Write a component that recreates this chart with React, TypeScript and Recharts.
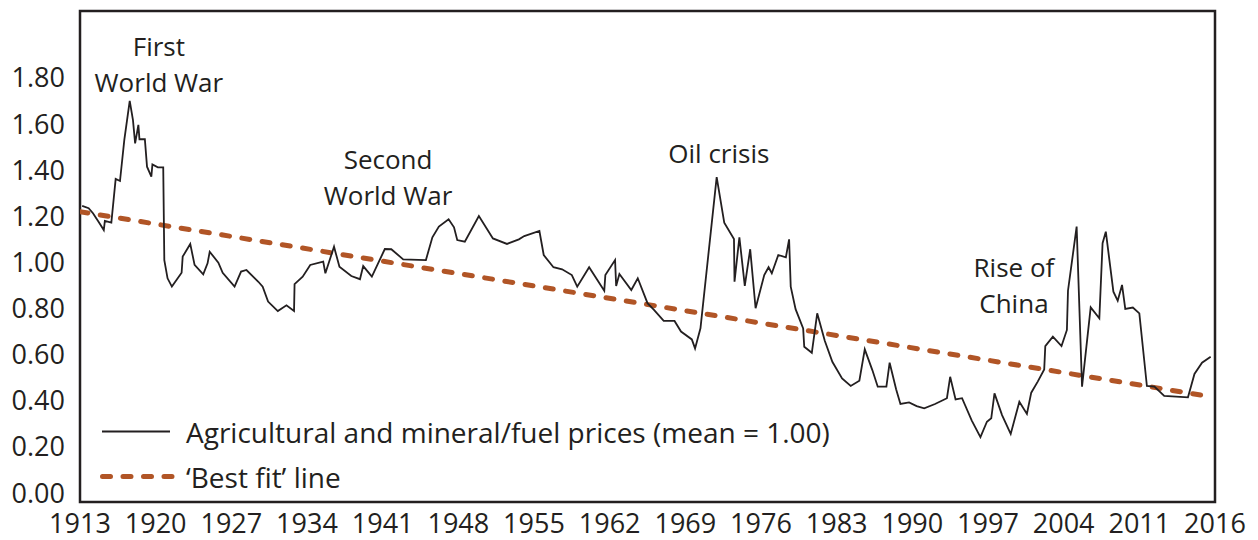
import { LineChart, Line, XAxis, YAxis, ReferenceArea, ReferenceDot, Legend } from 'recharts';

// price index (mean = 1.00)
const years = [
  1913.2, 1913.8, 1914.2, 1914.7, 1915.2, 1915.3, 1915.9, 1916.3, 1916.7, 1917.1,
  1917.6, 1917.9, 1918.1, 1918.4, 1918.5, 1919.0, 1919.2, 1919.6, 1919.7, 1920.2,
  1920.7, 1920.8, 1921.1, 1921.5, 1922.4, 1922.5, 1923.2, 1923.6, 1924.4, 1924.8,
  1925.0, 1925.8, 1926.2, 1927.3, 1927.9, 1928.4, 1929.5, 1929.9, 1930.4, 1931.3,
  1932.1, 1932.8, 1932.85, 1933.6, 1934.3, 1935.5, 1935.7, 1936.5, 1937.0, 1938.1,
  1938.9, 1939.2, 1940.0, 1941.2, 1941.8, 1942.9, 1945.0, 1945.6, 1946.2, 1947.1,
  1947.6, 1947.9, 1948.6, 1949.9, 1951.2, 1952.5, 1953.6, 1954.1, 1955.5, 1955.9,
  1956.8, 1957.6, 1958.5, 1959.0, 1960.1, 1961.5, 1961.6, 1962.5, 1962.6, 1962.9,
  1964.0, 1964.6, 1965.5, 1966.1, 1967.0, 1968.0, 1968.6, 1969.6, 1969.9, 1970.4,
  1971.9, 1972.6, 1973.5, 1973.55, 1974.0, 1974.5, 1975.0, 1975.5, 1976.3, 1976.7,
  1977.0, 1977.6, 1978.3, 1978.6, 1978.75, 1979.2, 1979.9, 1980.0, 1980.7, 1981.2,
  1981.9, 1982.6, 1983.5, 1984.3, 1985.1, 1985.6, 1986.3, 1986.8, 1987.6, 1987.9,
  1988.5, 1988.9, 1989.7, 1990.4, 1991.1, 1992.1, 1993.2, 1993.5, 1994.0, 1994.6,
  1995.5, 1996.3, 1996.9, 1997.3, 1997.6, 1998.3, 1999.1, 1999.9, 2000.6, 2001.0,
  2001.6, 2002.2, 2002.3, 2003.0, 2003.8, 2004.3, 2004.4, 2005.2, 2005.7, 2006.5,
  2007.3, 2007.6, 2007.9, 2008.6, 2009.0, 2009.4, 2009.7, 2010.4, 2011.0, 2011.7,
  2012.4, 2013.3, 2015.5, 2016.1, 2016.8, 2017.6,
];
const prices = [
  1.245, 1.235, 1.213, 1.177, 1.14, 1.18, 1.172, 1.362, 1.353, 1.531,
  1.70, 1.617, 1.516, 1.596, 1.534, 1.534, 1.415, 1.372, 1.425, 1.412,
  1.412, 1.01, 0.931, 0.895, 0.955, 1.025, 1.08, 0.989, 0.948, 0.996,
  1.046, 0.999, 0.955, 0.895, 0.96, 0.967, 0.916, 0.895, 0.83, 0.789,
  0.814, 0.789, 0.906, 0.938, 0.989, 1.003, 0.953, 1.068, 0.981, 0.941,
  0.927, 0.984, 0.938, 1.058, 1.057, 1.013, 1.01, 1.109, 1.155, 1.187,
  1.152, 1.097, 1.09, 1.201, 1.104, 1.08, 1.10, 1.114, 1.136, 1.032,
  0.979, 0.97, 0.945, 0.895, 0.979, 0.877, 0.945, 1.01, 0.898, 0.95,
  0.88, 0.931, 0.823, 0.794, 0.746, 0.746, 0.70, 0.666, 0.627, 0.714,
  1.37, 1.172, 1.101, 0.916, 1.109, 0.898, 1.057, 0.801, 0.945, 0.979,
  0.953, 1.032, 1.022, 1.10, 0.895, 0.797, 0.714, 0.634, 0.608, 0.779,
  0.66, 0.569, 0.497, 0.464, 0.487, 0.623, 0.533, 0.461, 0.461, 0.565,
  0.45, 0.386, 0.393, 0.377, 0.367, 0.386, 0.411, 0.504, 0.406, 0.411,
  0.314, 0.242, 0.309, 0.324, 0.432, 0.338, 0.256, 0.396, 0.343, 0.435,
  0.483, 0.536, 0.637, 0.678, 0.637, 0.707, 0.877, 1.155, 0.461, 0.805,
  0.758, 1.083, 1.133, 0.873, 0.834, 0.902, 0.798, 0.804, 0.779, 0.464,
  0.461, 0.421, 0.415, 0.516, 0.565, 0.591,
];

// 'best fit' trend line end points
const fitYears = [1913, 2017.3];
const fitValues = [1.22, 0.42];

// axis ticks (the last label reads 2016 in the original)
const xTicks = [1913, 1920, 1927, 1934, 1941, 1948, 1955, 1962, 1969, 1976, 1983, 1990, 1997, 2004, 2011, 2018];
const xTickLabels = ['1913', '1920', '1927', '1934', '1941', '1948', '1955', '1962', '1969', '1976', '1983', '1990', '1997', '2004', '2011', '2016'];
const yTicks = [0, 0.2, 0.4, 0.6, 0.8, 1.0, 1.2, 1.4, 1.6, 1.8];

const annotations = [
  { lines: ['First', 'World War'], year: 1920.3, value: 1.895 },
  { lines: ['Second', 'World War'], year: 1941.5, value: 1.405 },
  { lines: ['Oil crisis'], year: 1972.1, value: 1.431 },
  { lines: ['Rise of', 'China'], year: 1999.4, value: 0.937 },
];

const X_MIN = 1913;
const X_MAX = 2018;
const Y_MIN = -0.039;
const Y_MAX = 2.09;

const INK = '#231f20';
const RUST = '#b15526';
const FONT = '"Open Sans", sans-serif';

const priceData = years.map((year, i) => ({ year, price: prices[i] }));
const fitData = fitYears.map((year, i) => ({ year, fit: fitValues[i] }));

function renderLegend(props: any) {
  const items = props.payload || [];
  return (
    <div style={{ fontFamily: FONT, fontSize: 28, color: INK, whiteSpace: 'nowrap' }}>
      {items.map((entry: any) => (
        <div key={entry.value} style={{ display: 'flex', alignItems: 'center', height: 45 }}>
          <svg width={86} height={45}>
            {entry.dataKey === 'fit' ? (
              <line x1={2.5} y1={22.5} x2={72} y2={22.5} stroke={RUST} strokeWidth={5} strokeDasharray="8 12.5" strokeLinecap="round" />
            ) : (
              <line x1={2} y1={22.5} x2={70} y2={22.5} stroke={INK} strokeWidth={2} />
            )}
          </svg>
          <span>{entry.value}</span>
        </div>
      ))}
    </div>
  );
}

export default function App() {
  return (
    <div style={{ position: 'absolute', left: 0, top: 0, background: '#fff' }}>
      <LineChart width={1258} height={540} margin={{ top: 11, right: 43, bottom: 0, left: 0 }}>
        <XAxis
          type="number"
          dataKey="year"
          domain={[X_MIN, X_MAX]}
          allowDataOverflow
          ticks={xTicks}
          interval={0}
          tickFormatter={(v: number) => xTickLabels[xTicks.indexOf(v)]}
          axisLine={false}
          tickLine={false}
          tickSize={0}
          tickMargin={12}
          height={38}
          tick={{ fill: INK, fontSize: 27, fontFamily: FONT }}
        />
        <YAxis
          type="number"
          domain={[Y_MIN, Y_MAX]}
          allowDataOverflow
          ticks={yTicks}
          interval={0}
          tickFormatter={(v: number) => v.toFixed(2)}
          axisLine={false}
          tickLine={false}
          tickSize={0}
          tickMargin={15}
          width={80}
          tick={{ fill: INK, fontSize: 27, fontFamily: FONT }}
        />
        <ReferenceArea x1={X_MIN} x2={X_MAX} y1={Y_MIN} y2={Y_MAX} fill="none" stroke={INK} strokeWidth={2.5} />
        <Line
          data={fitData}
          dataKey="fit"
          name="‘Best fit’ line"
          type="linear"
          stroke={RUST}
          strokeWidth={5}
          strokeDasharray="8 12.5"
          strokeLinecap="round"
          dot={false}
          isAnimationActive={false}
        />
        <Line
          data={priceData}
          dataKey="price"
          name="Agricultural and mineral/fuel prices (mean = 1.00)"
          type="linear"
          stroke={INK}
          strokeWidth={1.8}
          dot={false}
          isAnimationActive={false}
        />
        {annotations.map((a) => (
          <ReferenceDot
            key={a.lines.join(' ')}
            x={a.year}
            y={a.value}
            r={0}
            shape={(p: any) => (
              <text x={p.cx} y={p.cy} textAnchor="middle" fill={INK} fontSize={26} fontFamily={FONT}>
                {a.lines.map((line, i) => (
                  <tspan key={line} x={p.cx} dy={i === 0 ? 0 : 36}>{line}</tspan>
                ))}
              </text>
            )}
          />
        ))}
        <Legend
          content={renderLegend}
          layout="vertical"
          align="center"
          verticalAlign="middle"
          itemSorter={(item: any) => (item.dataKey === 'price' ? 0 : 1)}
          wrapperStyle={{ left: 100, top: 409, width: 'auto' }}
        />
      </LineChart>
    </div>
  );
}
